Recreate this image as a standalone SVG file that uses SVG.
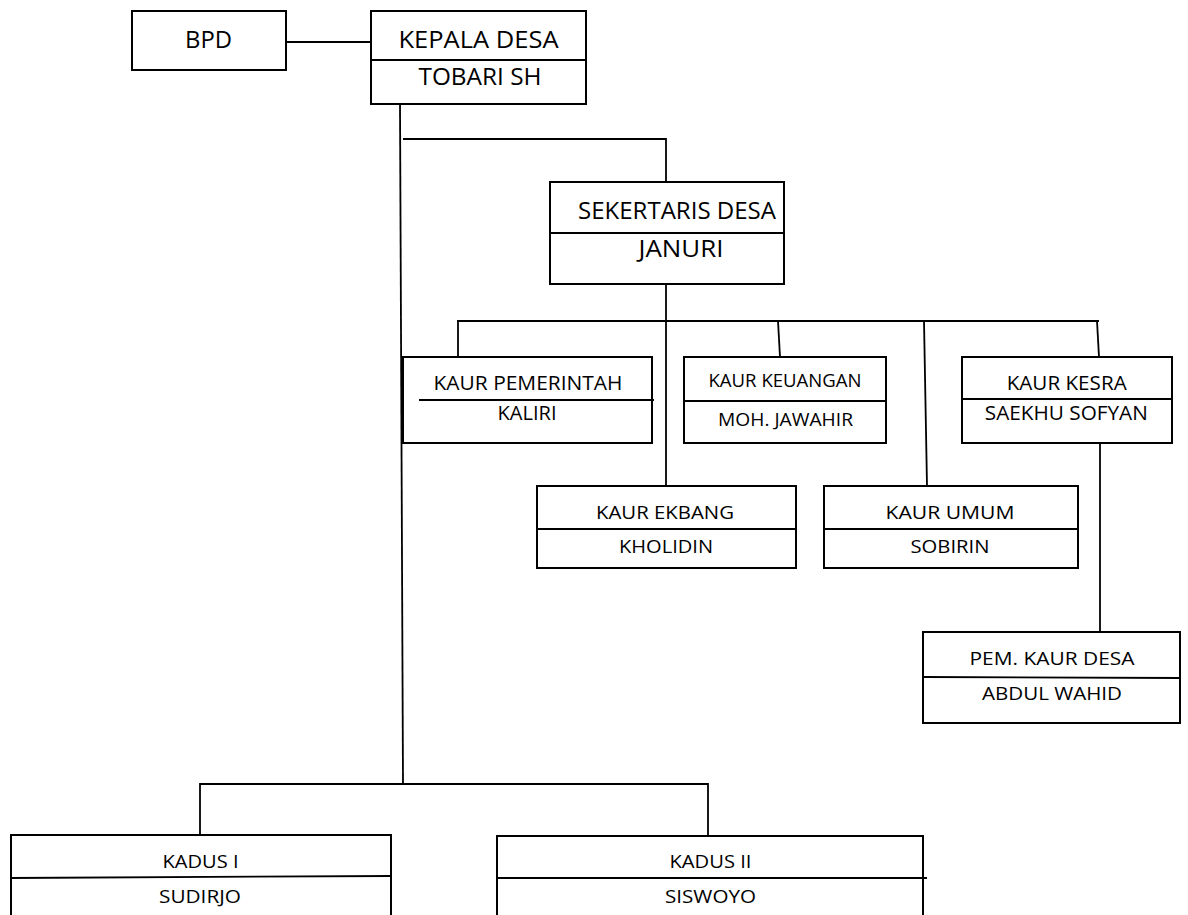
<svg xmlns="http://www.w3.org/2000/svg" width="1188" height="915" viewBox="0 0 1188 915">
<style>
.box{fill:#fff;stroke:#000;stroke-width:2}
.ln{fill:none;stroke:#000;stroke-width:1.8}
text{font-family:"Open Sans","Noto Sans","Liberation Sans",sans-serif;fill:#000;text-anchor:middle}
.big{font-size:23.5px}
.mid{font-size:20.5px}
.sm{font-size:18.5px}
.xs{font-size:17.5px}
</style>
<rect width="1188" height="915" fill="#fff"/>
<g id="connectors">
<line class="ln" x1="286" y1="42" x2="371" y2="42"/>
<line class="ln" x1="400" y1="104" x2="403" y2="784"/>
<polyline class="ln" points="403,139 666,139 666,182"/>
<line class="ln" x1="666" y1="284" x2="666" y2="486"/>
<line class="ln" x1="457" y1="321" x2="1099" y2="321"/>
<line class="ln" x1="458" y1="321" x2="458" y2="357"/>
<line class="ln" x1="778" y1="321" x2="780" y2="357"/>
<line class="ln" x1="924" y1="321" x2="927" y2="486"/>
<line class="ln" x1="1097" y1="321" x2="1099" y2="357"/>
<line class="ln" x1="1100" y1="443" x2="1100" y2="632"/>
<polyline class="ln" points="200,835 200,784 708,784 708,836"/>
</g>
<g id="bpd">
<rect class="box" x="132" y="11" width="154" height="59"/>
<text class="big" x="208.5" y="48" textLength="47" lengthAdjust="spacingAndGlyphs">BPD</text>
</g>
<g id="kepala-desa">
<rect class="box" x="371" y="11" width="215" height="93"/>
<line class="ln" x1="371" y1="60" x2="586" y2="60"/>
<text class="big" x="478.5" y="48" textLength="160" lengthAdjust="spacingAndGlyphs">KEPALA DESA</text>
<text class="big" x="480" y="85" textLength="123" lengthAdjust="spacingAndGlyphs">TOBARI SH</text>
</g>
<g id="sekertaris-desa">
<rect class="box" x="550" y="182" width="234" height="102"/>
<line class="ln" x1="550" y1="233" x2="784" y2="233"/>
<text class="big" x="677" y="219" textLength="198" lengthAdjust="spacingAndGlyphs">SEKERTARIS DESA</text>
<text class="big" x="681" y="257" textLength="85" lengthAdjust="spacingAndGlyphs">JANURI</text>
</g>
<g id="kaur-pemerintah">
<rect class="box" x="403" y="357" width="249" height="86"/>
<line class="ln" x1="419" y1="400" x2="654" y2="400"/>
<text class="mid" x="528" y="390" textLength="189" lengthAdjust="spacingAndGlyphs">KAUR PEMERINTAH</text>
<text class="mid" x="527" y="420" textLength="59" lengthAdjust="spacingAndGlyphs">KALIRI</text>
</g>
<g id="kaur-keuangan">
<rect class="box" x="684" y="357" width="202" height="86"/>
<line class="ln" x1="684" y1="401" x2="886" y2="401"/>
<text class="xs" x="785" y="387" textLength="153" lengthAdjust="spacingAndGlyphs">KAUR KEUANGAN</text>
<text class="xs" x="785.5" y="426" textLength="135" lengthAdjust="spacingAndGlyphs">MOH. JAWAHIR</text>
</g>
<g id="kaur-kesra">
<rect class="box" x="962" y="357" width="210" height="86"/>
<line class="ln" x1="962" y1="399" x2="1172" y2="399"/>
<text class="mid" x="1066.7" y="390" textLength="120" lengthAdjust="spacingAndGlyphs">KAUR KESRA</text>
<text class="mid" x="1066.3" y="419.5" textLength="163" lengthAdjust="spacingAndGlyphs">SAEKHU SOFYAN</text>
</g>
<g id="kaur-ekbang">
<rect class="box" x="537" y="486" width="259" height="82"/>
<line class="ln" x1="537" y1="529" x2="796" y2="529"/>
<text class="sm" x="665" y="519" textLength="138" lengthAdjust="spacingAndGlyphs">KAUR EKBANG</text>
<text class="sm" x="666" y="553" textLength="94" lengthAdjust="spacingAndGlyphs">KHOLIDIN</text>
</g>
<g id="kaur-umum">
<rect class="box" x="824" y="486" width="254" height="82"/>
<line class="ln" x1="824" y1="529" x2="1078" y2="529"/>
<text class="sm" x="950" y="519" textLength="129" lengthAdjust="spacingAndGlyphs">KAUR UMUM</text>
<text class="sm" x="950" y="553" textLength="79" lengthAdjust="spacingAndGlyphs">SOBIRIN</text>
</g>
<g id="pem-kaur-desa">
<rect class="box" x="923" y="632" width="257" height="91"/>
<line class="ln" x1="923" y1="677" x2="1180" y2="678"/>
<text class="sm" x="1052" y="665" textLength="165" lengthAdjust="spacingAndGlyphs">PEM. KAUR DESA</text>
<text class="sm" x="1052" y="700" textLength="140" lengthAdjust="spacingAndGlyphs">ABDUL WAHID</text>
</g>
<g id="kadus-1">
<path class="box" d="M11,920 V835 H391 V920"/>
<line class="ln" x1="11" y1="878" x2="391" y2="876"/>
<text class="sm" x="200.5" y="868" textLength="76" lengthAdjust="spacingAndGlyphs">KADUS I</text>
<text class="sm" x="200" y="903" textLength="82" lengthAdjust="spacingAndGlyphs">SUDIRJO</text>
</g>
<g id="kadus-2">
<path class="box" d="M497,920 V836 H923 V920"/>
<line class="ln" x1="497" y1="878" x2="927" y2="878"/>
<text class="sm" x="710.5" y="868" textLength="82" lengthAdjust="spacingAndGlyphs">KADUS II</text>
<text class="sm" x="710.5" y="903" textLength="91" lengthAdjust="spacingAndGlyphs">SISWOYO</text>
</g>
</svg>
